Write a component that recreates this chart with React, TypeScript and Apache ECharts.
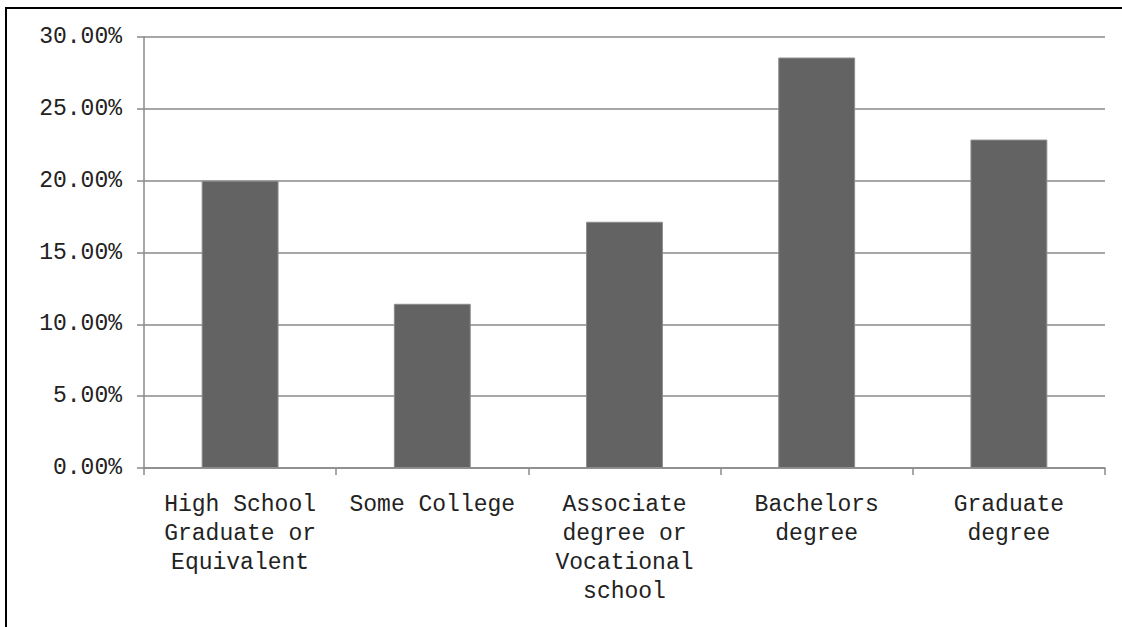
import React, { useEffect, useRef } from "react";
import * as echarts from "echarts";

// Share of respondents by highest level of education
const categories: string[] = [
  "High School\nGraduate or\nEquivalent",
  "Some College",
  "Associate\ndegree or\nVocational\nschool",
  "Bachelors\ndegree",
  "Graduate\ndegree",
];
const shares: number[] = [20.0, 11.43, 17.14, 28.57, 22.86];

const FONT = "'Liberation Mono', 'Courier New', monospace";

export default function App() {
  const ref = useRef<HTMLDivElement>(null);

  useEffect(() => {
    if (!ref.current) return;
    const chart = echarts.init(ref.current, undefined, { renderer: "svg" });
    chart.setOption({
      animation: false,
      backgroundColor: "transparent",
      grid: { left: 144, right: 17, top: 37, bottom: 159 },
      xAxis: {
        type: "category",
        data: categories,
        boundaryGap: true,
        axisLine: { lineStyle: { color: "#8a8a8a", width: 1.5 } },
        axisTick: { show: true, length: 7, alignWithLabel: false, lineStyle: { color: "#8a8a8a", width: 1.5 } },
        axisLabel: {
          interval: 0,
          margin: 22,
          fontFamily: FONT,
          fontSize: 23,
          lineHeight: 29,
          color: "#222",
          align: "center",
        },
      },
      yAxis: {
        type: "value",
        min: 0,
        max: 30,
        interval: 5,
        axisLine: { show: true, lineStyle: { color: "#8a8a8a", width: 1.5 } },
        axisTick: { show: true, length: 7, lineStyle: { color: "#8a8a8a", width: 1.5 } },
        splitLine: { show: true, lineStyle: { color: "#8a8a8a", width: 1.5 } },
        axisLabel: {
          margin: 22,
          fontFamily: FONT,
          fontSize: 23,
          color: "#222",
          formatter: (v: number) => v.toFixed(2) + "%",
        },
      },
      series: [
        {
          type: "bar",
          data: shares,
          barWidth: "40%",
          itemStyle: { color: "#636363", borderColor: "#8c8c8c", borderWidth: 1 },
        },
      ],
    });
    return () => chart.dispose();
  }, []);

  return (
    <div
      style={{
        position: "fixed",
        left: 0,
        top: 0,
        width: 1122,
        height: 627,
        overflow: "hidden",
        background: "#fff",
      }}
    >
      <div
        style={{
          position: "absolute",
          left: 5,
          top: 7,
          width: 1200,
          height: 700,
          border: "2px solid #000",
          boxSizing: "border-box",
        }}
      />
      <div ref={ref} style={{ position: "absolute", left: 0, top: 0, width: 1122, height: 627 }} />
    </div>
  );
}
